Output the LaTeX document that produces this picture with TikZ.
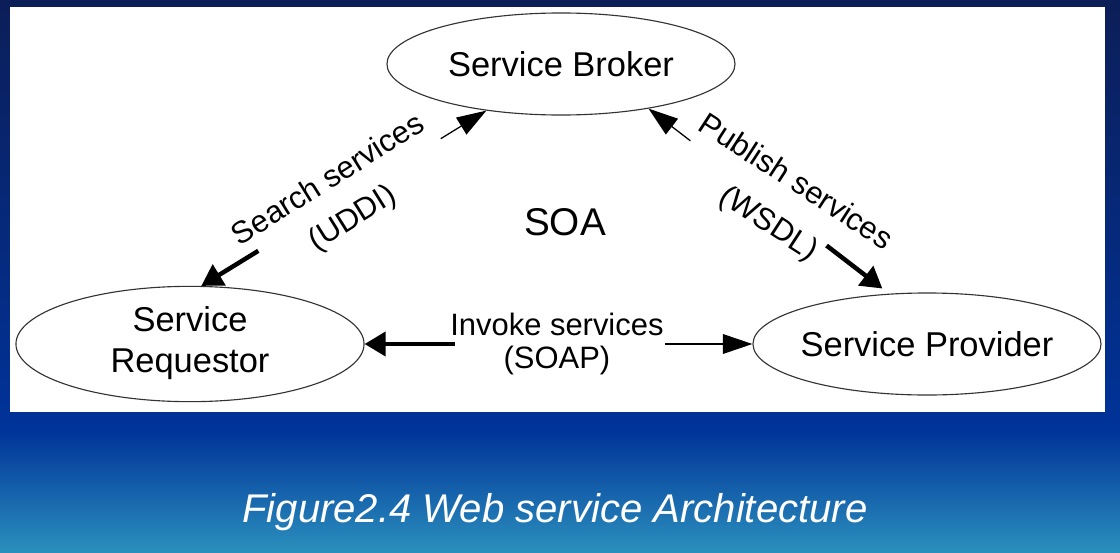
\documentclass[tikz,border=0pt]{standalone}
\usepackage{fontspec}
\setmainfont{Liberation Sans}
\usepackage{tikz}
\usetikzlibrary{arrows.meta,shapes.geometric,positioning,calc}
\usepackage{xcolor}
\definecolor{navytop}{HTML}{0C1E58}
\definecolor{slideblue}{HTML}{003399}
\definecolor{slideteal}{HTML}{2B90BD}
\definecolor{rim}{HTML}{333333}

\begin{document}
\begin{tikzpicture}[x=0.025cm, y=-0.025cm,
    svc/.style={ellipse, draw=rim, line width=0.8pt, fill=white, minimum width=8.7cm, minimum height=2.55cm, inner sep=0pt, font=\fontsize{24.5}{29}\selectfont},
    lbl/.style={align=center, inner sep=0pt, font=\fontsize{22}{24}\selectfont},
    heavy/.style={line width=3.2pt, -{Triangle[length=15pt,width=17pt]}},
    light/.style={line width=0.9pt, -{Triangle[length=21pt,width=14pt]}}]
    % 背景
    \useasboundingbox (0,0) rectangle (1120,553);
    \shade[top color=navytop, bottom color=slideblue] (0,0) rectangle (1120,431);
    \shade[top color=slideblue, bottom color=slideteal] (0,430) rectangle (1120,553);
    \fill[white] (10,7) rectangle (1105,412);

    % 服务节点
    \node[svc] (bro) at (561,64) {\makebox[0pt]{Service Broker}};
    \node[svc] (req) at (190,344) {\makebox[0pt]{\begin{tabular}{@{}c@{}}Service\\Requestor\end{tabular}}};
    \node[svc] (prov) at (927,344) {\makebox[0pt]{Service Provider}};
    \node[font=\fontsize{27.5}{30}\selectfont] (soa) at (565,222) {SOA};

    % 查找
    \path (req.79) -- coordinate[pos=0.2] (srchA) node[lbl, rotate=32, pos=0.49] (srch) {Search services\\[8pt](UDDI)} coordinate[pos=0.84] (srchB) (bro.212);
    \draw[heavy] (srchA) -- (req.79);
    \draw[light] (srchB) -- (bro.212);

    % 发布
    \path (bro.333) -- coordinate[pos=0.174] (pubA) node[lbl, rotate=-33, yshift=4pt, pos=0.54] (pub) {Publish services\\[11pt](WSDL)} coordinate[pos=0.74] (pubB) (prov.127);
    \draw[light] (pubA) -- (bro.333);
    \draw[heavy, shorten >=6pt] (pubB) -- (prov.127);

    % 调用
    \path (req.east) -- coordinate[pos=0.234] (invA) node[lbl, pos=0.496] (inv) {Invoke services\\(SOAP)} coordinate[pos=0.774] (invB) (prov.west);
    \draw[heavy] (invA) -- (req.east);
    \draw[light] (invB) -- (prov.west);

    % 标题
    \node[text=white, font=\fontsize{28.5}{32}\selectfont\itshape] (cap) at (555,512) {Figure2.4 Web service Architecture};
\end{tikzpicture}
\end{document}
